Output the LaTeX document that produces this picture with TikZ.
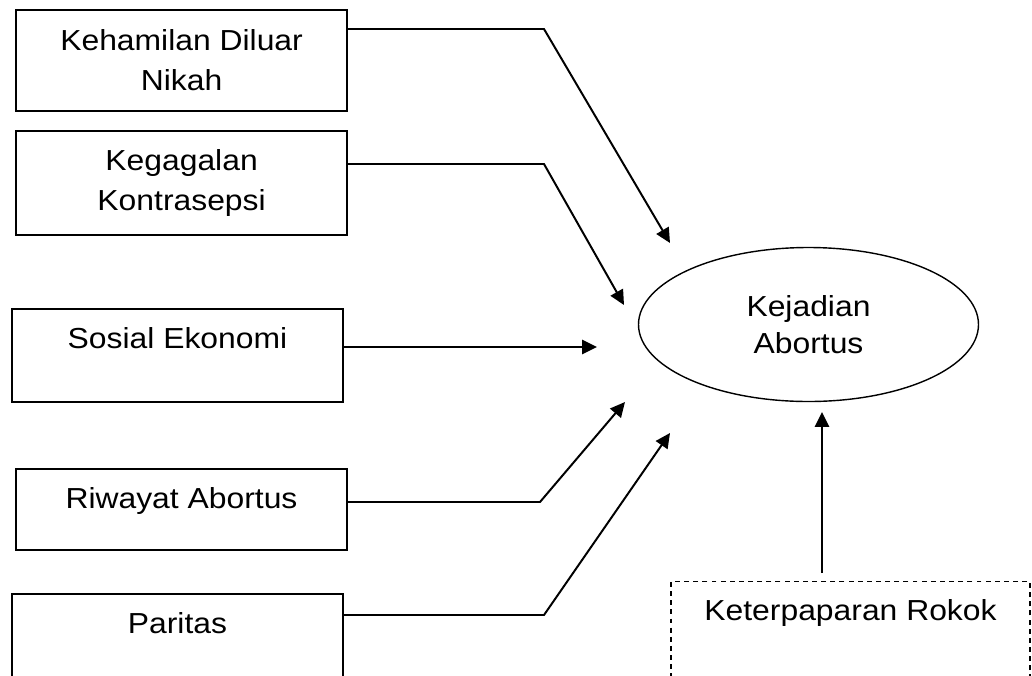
\documentclass[tikz,border=0pt]{standalone}
\usepackage{fontspec}
\setmainfont[FakeStretch=1.1]{Liberation Sans}
\usetikzlibrary{arrows.meta,positioning,shapes}
\tikzset{
  kotak/.style={draw, line width=1.4pt, minimum width=8.275cm, align=center, inner sep=0pt, font=\fontsize{20.6}{28.5}\selectfont},
  panah/.style={line width=1.4pt, -{Triangle[length=10.5pt,width=10pt]}},
}

\begin{document}
\begin{tikzpicture}[line join=miter]
        \clip (0,0) rectangle (25.8,-16.875);
        \node[kotak, minimum height=2.525cm] (nikah) at (4.54,-1.51) {Kehamilan Diluar\\Nikah};
        \node[kotak, minimum height=2.6cm] (kontra) at (4.54,-4.575) {Kegagalan\\Kontrasepsi};
        \node[kotak, anchor=north, text height=1cm, text depth=1.325cm] (sosek) at (4.4375,-7.7) {Sosial Ekonomi};
        \node[kotak, anchor=north, text height=1cm, text depth=1.025cm] (riwayat) at (4.5375,-11.7) {Riwayat Abortus};
        \node[kotak, anchor=north, text height=1cm, text depth=3cm] (paritas) at (4.4375,-14.825) {Paritas};
        \node[kotak, dash pattern=on 3.5pt off 3pt, line width=1pt, minimum width=8.975cm, anchor=north, text height=0.975cm, text depth=3cm] (rokok) at (21.2625,-14.525) {Keterpaparan Rokok};
        \node[ellipse, draw, line width=1pt, minimum width=8.5cm, minimum height=3.85cm, inner sep=0pt, align=center, font=\fontsize{20.6}{26.3}\selectfont] (abortus) at (20.2125,-8.1125) {Kejadian\\Abortus};
        \coordinate (b1) at (13.6,-0.725);
        \coordinate (t1) at (16.75,-6.075);
        \coordinate (b2) at (13.6,-4.1);
        \coordinate (t2) at (15.6,-7.625);
        \coordinate (t3) at (14.925,-8.675);
        \coordinate (b4) at (13.5,-12.55);
        \coordinate (t4) at (15.625,-10.05);
        \coordinate (b5) at (13.6,-15.375);
        \coordinate (t5) at (16.75,-10.825);
        \coordinate (t6) at (20.55,-10.3);
        \draw[panah] (nikah.east |- b1) -- (b1) -- (t1);
        \draw[panah] (kontra.east |- b2) -- (b2) -- (t2);
        \draw[panah] (sosek.east |- t3) -- (t3);
        \draw[panah] (riwayat.east |- b4) -- (b4) -- (t4);
        \draw[panah] (paritas.east |- b5) -- (b5) -- (t5);
        \draw[panah] ([yshift=0.2cm]rokok.north -| t6) -- (t6);
    \end{tikzpicture}
\end{document}
